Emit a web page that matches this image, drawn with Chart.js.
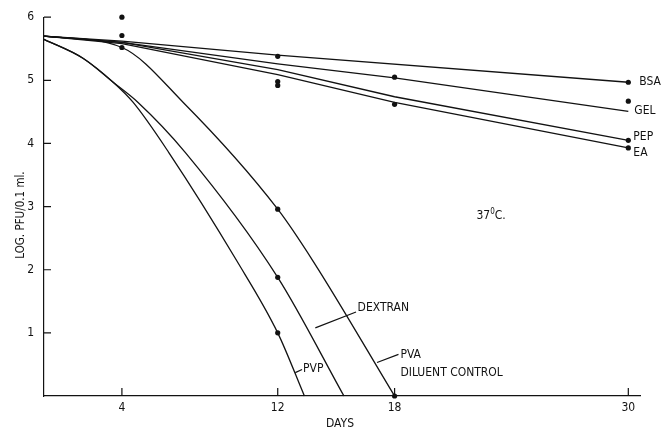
<!DOCTYPE html>
<html>
<head>
<meta charset="utf-8">
<script src="https://cdn.jsdelivr.net/npm/chart.js@4.4.1/dist/chart.umd.min.js"></script>
<style>
  html, body { margin: 0; padding: 0; background: #fff; }
  #wrap { width: 662px; height: 432px; }
</style>
</head>
<body>
<div id="wrap"><canvas id="chart" width="662" height="432"></canvas></div>
<script>
const FONT = '"DejaVu Sans Condensed", "Liberation Sans Narrow", sans-serif';
const INK = "#121212";

// tick positions
const dayTicks = [4, 12, 18, 30];
const logTicks = [1, 2, 3, 4, 5, 6];

// stabilizer lines (days / log PFU)
const bsaDays = [0, 4, 12, 30];
const bsaLog = [5.7, 5.62, 5.40, 4.97];
const gelDays = [0, 4, 12, 18, 30];
const gelLog = [5.7, 5.6, 5.26, 5.04, 4.51];
const pepDays = [0, 4, 12, 18, 30];
const pepLog = [5.7, 5.6, 5.17, 4.74, 4.05];
const eaDays = [0, 4, 12, 18, 30];
const eaLog = [5.7, 5.58, 5.09, 4.65, 3.93];

// decay curves
const pvaDays = [0, 4, 7.15, 12, 13.83, 18];
const pvaLog = [5.7, 5.52, 4.65, 2.96, 2.13, 0];
const dexDays = [0, 2, 3.55, 4.83, 7.25, 12, 15.4];
const dexLog = [5.65, 5.35, 4.97, 4.65, 3.86, 1.88, 0];
const pvpDays = [0, 2, 3.55, 4.58, 6.4, 9.92, 12, 13.37];
const pvpLog = [5.65, 5.35, 4.97, 4.65, 3.86, 2.13, 1.0, 0];

// measured points
const dotDays = [4, 4, 4, 12, 12, 12, 12, 12, 12, 18, 18, 18, 30, 30, 30, 30];
const dotLog = [6.0, 5.71, 5.52, 5.38, 4.98, 4.92, 2.96, 1.88, 1.0, 5.05, 4.62, 0, 4.97, 4.67, 4.05, 3.93];

const pts = (xs, ys) => xs.map((x, i) => ({ x: x, y: ys[i] }));

const lineSet = (xs, ys, curved) => ({
  type: "line",
  data: pts(xs, ys),
  borderColor: INK,
  borderWidth: 1.3,
  pointRadius: 0,
  fill: false,
  tension: 0,
  cubicInterpolationMode: curved ? "monotone" : "default",
  clip: false
});

// inward tick marks, curve labels and axis titles
const decorations = {
  id: "decorations",
  afterDraw(chart) {
    const ctx = chart.ctx;
    const xs = chart.scales.x;
    const ys = chart.scales.y;
    const area = chart.chartArea;
    const px = (d) => xs.getPixelForValue(d);
    const py = (v) => ys.getPixelForValue(v);

    ctx.save();
    ctx.strokeStyle = INK;
    ctx.lineWidth = 1.2;
    ctx.beginPath();
    logTicks.forEach(v => {
      ctx.moveTo(area.left, py(v));
      ctx.lineTo(area.left + 7, py(v));
    });
    dayTicks.forEach(d => {
      ctx.moveTo(px(d), area.bottom);
      ctx.lineTo(px(d), area.bottom - 8);
    });
    // leader lines
    ctx.moveTo(px(13.93), py(1.08)); ctx.lineTo(px(16.02), py(1.33));
    ctx.moveTo(px(17.1), py(0.53)); ctx.lineTo(px(18.2), py(0.66));
    ctx.moveTo(px(12.9), py(0.37)); ctx.lineTo(px(13.25), py(0.42));
    ctx.stroke();

    ctx.fillStyle = INK;
    ctx.font = "12px " + FONT;
    ctx.textBaseline = "middle";
    ctx.textAlign = "left";
    ctx.fillText("BSA", px(30) + 11, py(4.97));
    ctx.fillText("GEL", px(30) + 6, py(4.51));
    ctx.fillText("PEP", px(30) + 5, py(4.11));
    ctx.fillText("EA", px(30) + 5, py(3.85));
    ctx.fillText("DEXTRAN", px(16.1), py(1.39));
    ctx.fillText("PVA", px(18.3), py(0.65));
    ctx.fillText("DILUENT CONTROL", px(18.3), py(0.37));
    ctx.fillText("PVP", px(13.3), py(0.43));

    // temperature note
    const tx = px(22.2), ty = py(2.85);
    ctx.fillText("37", tx, ty);
    let w = ctx.measureText("37").width;
    ctx.font = "8px " + FONT;
    ctx.fillText("0", tx + w, ty - 4);
    w += ctx.measureText("0").width;
    ctx.font = "12px " + FONT;
    ctx.fillText("C.", tx + w, ty);

    ctx.textAlign = "center";
    ctx.fillText("DAYS", (area.left + area.right) / 2 - 2, area.bottom + 28);

    ctx.translate(21, 215);
    ctx.rotate(-Math.PI / 2);
    ctx.font = "11.5px " + FONT;
    ctx.fillText("LOG. PFU/0.1 ml.", 0, 0);
    ctx.restore();
  }
};

new Chart(document.getElementById("chart"), {
  type: "scatter",
  data: {
    datasets: [
      lineSet(bsaDays, bsaLog, false),
      lineSet(gelDays, gelLog, false),
      lineSet(pepDays, pepLog, false),
      lineSet(eaDays, eaLog, false),
      lineSet(pvaDays, pvaLog, true),
      lineSet(dexDays, dexLog, true),
      lineSet(pvpDays, pvpLog, true),
      {
        type: "scatter",
        data: pts(dotDays, dotLog),
        pointRadius: 2.6,
        pointBackgroundColor: INK,
        pointBorderWidth: 0,
        clip: false
      }
    ]
  },
  options: {
    responsive: false,
    animation: false,
    events: [],
    layout: { padding: { top: 14, right: 22, left: 0, bottom: 0 } },
    plugins: {
      legend: { display: false },
      tooltip: { enabled: false }
    },
    scales: {
      x: {
        type: "linear",
        min: 0,
        max: 30.6,
        grid: { display: false, drawTicks: false },
        border: { display: true, color: INK, width: 1.2 },
        afterBuildTicks: (s) => { s.ticks = dayTicks.map(v => ({ value: v })); },
        afterFit: (s) => { s.height = 36; },
        ticks: {
          color: INK,
          padding: 5,
          maxRotation: 0,
          font: { family: FONT, size: 12 }
        }
      },
      y: {
        type: "linear",
        min: 0,
        max: 6,
        grid: { display: false, drawTicks: false },
        border: { display: true, color: INK, width: 1.2 },
        afterBuildTicks: (s) => { s.ticks = logTicks.map(v => ({ value: v })); },
        afterFit: (s) => { s.width = 44; },
        ticks: {
          color: INK,
          padding: 10,
          font: { family: FONT, size: 12 }
        }
      }
    }
  },
  plugins: [decorations]
});
</script>
</body>
</html>
